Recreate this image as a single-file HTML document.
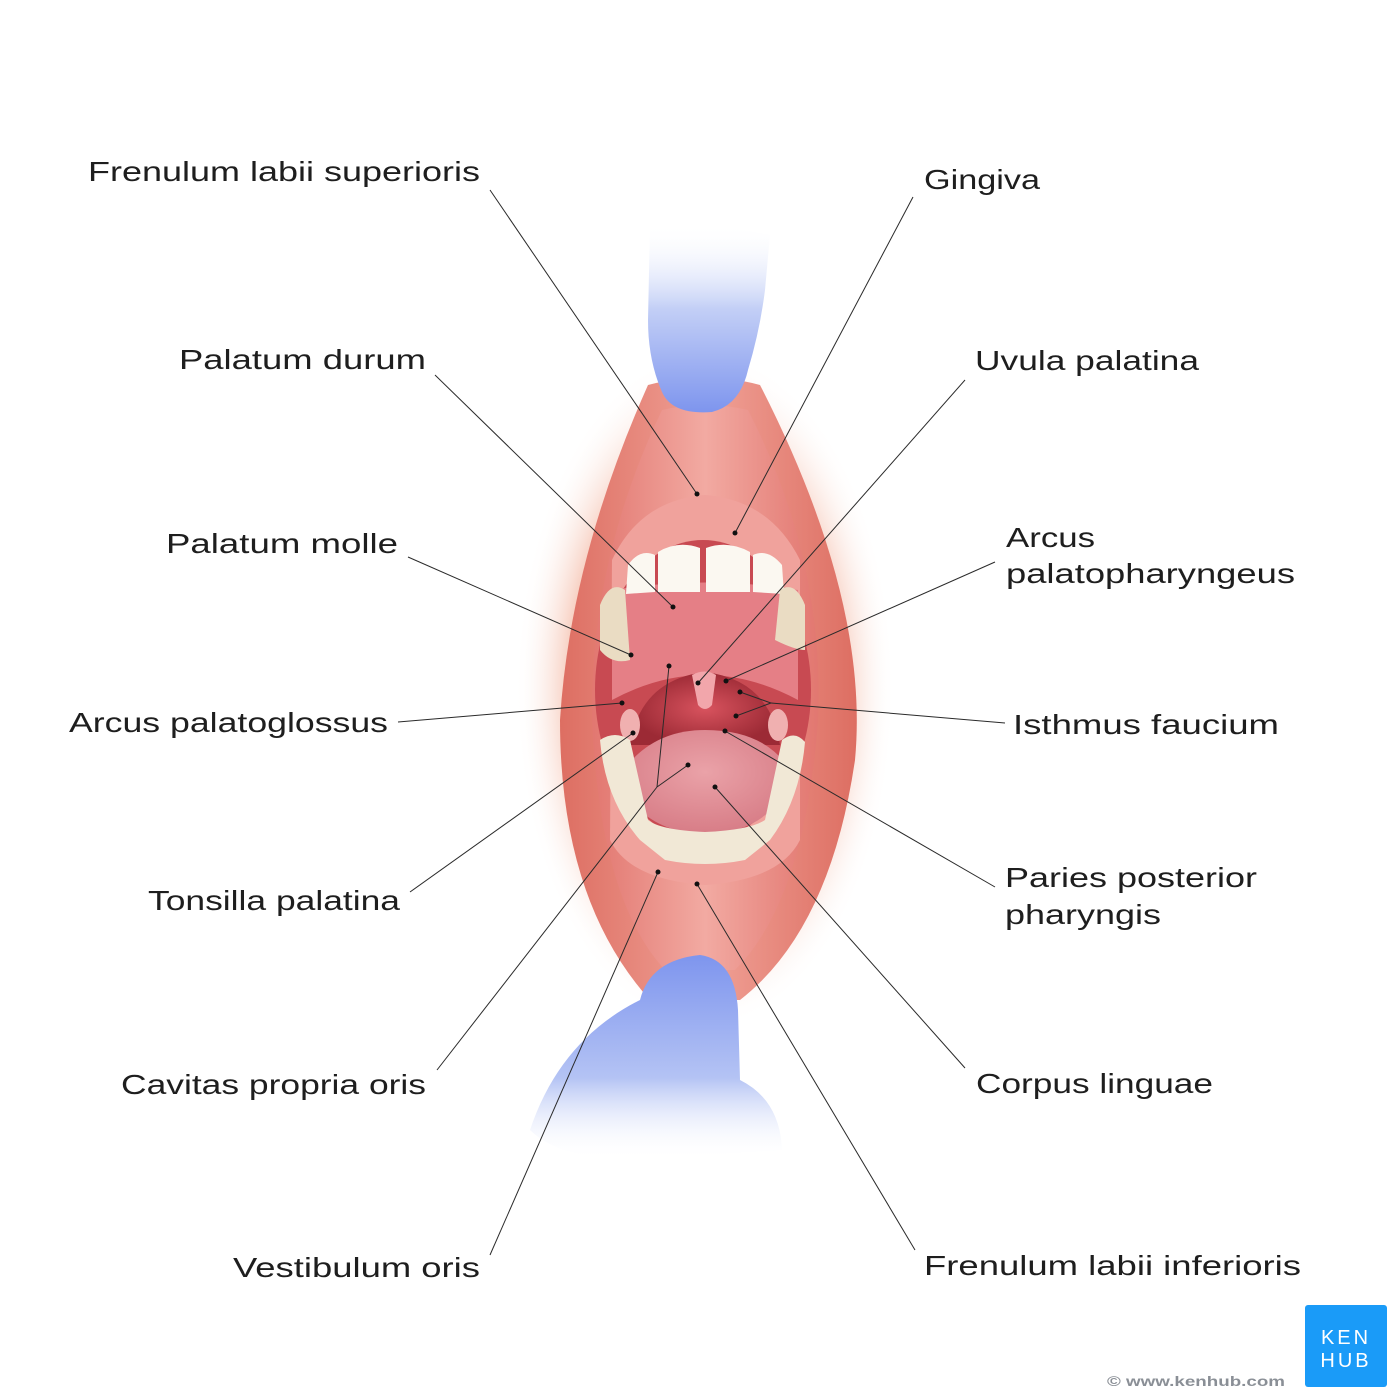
<!DOCTYPE html>
<html><head><meta charset="utf-8"><style>
html,body{margin:0;padding:0;background:#fff;width:1400px;height:1400px;overflow:hidden}
svg{display:block}
text{font-family:"Liberation Sans",sans-serif;font-size:28px;fill:#1e1e1e}
</style></head><body>
<svg width="1400" height="1400" viewBox="0 0 1400 1400" xmlns="http://www.w3.org/2000/svg">
<defs>
<radialGradient id="halo" cx="0.5" cy="0.5" r="0.5">
<stop offset="0.65" stop-color="#f3b49e"/><stop offset="1" stop-color="#fff" stop-opacity="0"/></radialGradient>
<linearGradient id="lip" x1="0" x2="1" y1="0" y2="0">
<stop offset="0" stop-color="#dd6e62"/><stop offset="0.5" stop-color="#f0a196"/><stop offset="1" stop-color="#dd6e62"/></linearGradient>
<linearGradient id="inner" x1="0" x2="1" y1="0" y2="0">
<stop offset="0" stop-color="#e27770"/><stop offset="0.5" stop-color="#f2aaa2"/><stop offset="1" stop-color="#e27770"/></linearGradient>
<radialGradient id="throat" cx="0.5" cy="0.5" r="0.5"><stop offset="0" stop-color="#d8535e"/><stop offset="1" stop-color="#9c2a35"/></radialGradient>
<radialGradient id="tongue" cx="0.5" cy="0.4" r="0.6"><stop offset="0" stop-color="#eaa2a8"/><stop offset="1" stop-color="#d77c86"/></radialGradient>
<linearGradient id="glove" x1="0" x2="0" y1="0" y2="1"><stop offset="0" stop-color="#fff" stop-opacity="0"/><stop offset="0.45" stop-color="#c3cff6"/><stop offset="1" stop-color="#7e95ee"/></linearGradient>
<linearGradient id="glove2" x1="0" x2="0" y1="0" y2="1"><stop offset="0" stop-color="#7e95ee"/><stop offset="0.6" stop-color="#b4c3f4"/><stop offset="1" stop-color="#fff" stop-opacity="0"/></linearGradient>
</defs>
<ellipse cx="705" cy="690" rx="190" ry="340" fill="url(#halo)"/>
<path d="M648 385 Q705 370 760 385 Q870 600 855 760 Q830 930 740 1000 L650 1000 Q560 900 560 720 Q570 560 648 385Z" fill="url(#lip)"/>
<path d="M662 410 Q705 400 748 410 Q825 560 818 720 Q805 900 735 970 L665 970 Q600 900 592 720 Q590 560 662 410Z" fill="url(#inner)"/>
<path d="M612 560 Q640 500 705 495 Q770 500 800 560 L800 840 Q780 880 705 885 Q630 880 610 840Z" fill="#f0a29c"/>
<ellipse cx="703" cy="690" rx="108" ry="150" fill="#c84a52"/>
<path d="M612 590 Q705 575 798 590 L798 700 Q705 650 612 700Z" fill="#e57f86"/>
<path d="M630 745 Q640 680 705 672 Q770 680 780 745Z" fill="url(#throat)"/>
<path d="M692 675 Q705 668 716 675 L712 705 Q705 713 698 705Z" fill="#f2a6ab"/>
<ellipse cx="630" cy="725" rx="10" ry="16" fill="#f0b0b0"/>
<ellipse cx="778" cy="725" rx="10" ry="16" fill="#f0b0b0"/>
<path d="M620 775 Q650 730 705 730 Q765 730 790 770 Q780 830 705 835 Q635 830 620 775Z" fill="url(#tongue)"/>
<g fill="#fbf8f1">
<path d="M658 552 Q678 540 700 548 L700 592 L658 592Z"/>
<path d="M706 548 Q728 540 750 552 L750 592 L706 592Z"/>
<path d="M628 565 Q640 548 655 555 L655 592 L626 594Z"/>
<path d="M753 555 Q768 548 782 565 L784 594 L753 592Z"/>
</g>
<path d="M600 605 Q610 580 625 590 L630 660 Q612 665 600 650Z" fill="#eadcc3"/>
<path d="M805 605 Q795 580 780 590 L775 640 Q795 650 805 650Z" fill="#eadcc3"/>
<path d="M600 740 Q615 730 630 740 L648 820 Q660 830 705 832 Q750 830 765 820 L782 740 Q795 730 805 742 Q800 800 770 840 L745 860 Q705 868 665 860 L640 840 Q605 800 600 740Z" fill="#f1e8d6"/>
<path d="M650 225 Q700 220 770 235 L765 290 Q760 330 748 370 Q740 405 712 412 Q672 415 662 392 Q648 360 648 320Z" fill="url(#glove)"/>
<path d="M530 1130 Q560 1040 640 1000 Q650 960 700 955 Q735 960 738 1010 L740 1080 Q780 1100 782 1150 L640 1160 Q560 1160 530 1130Z" fill="url(#glove2)"/>
<g stroke="#2a2a2a" stroke-width="1" fill="none">
<line x1="490" y1="190" x2="697" y2="494"/>
<line x1="913" y1="197" x2="735" y2="533"/>
<line x1="435" y1="375" x2="673" y2="607"/>
<line x1="965" y1="380" x2="698" y2="683"/>
<line x1="408" y1="557" x2="631" y2="655"/>
<line x1="995" y1="562" x2="726" y2="681"/>
<line x1="398" y1="722" x2="622" y2="703"/>
<polyline points="740,692 771,703 736,716"/>
<line x1="771" y1="703" x2="1005" y2="723"/>
<line x1="410" y1="892" x2="633" y2="733"/>
<line x1="995" y1="887" x2="725" y2="731"/>
<line x1="437" y1="1070" x2="657" y2="787"/>
<line x1="657" y1="787" x2="669" y2="666"/>
<line x1="657" y1="787" x2="688" y2="765"/>
<line x1="965" y1="1068" x2="715" y2="787"/>
<line x1="490" y1="1255" x2="658" y2="872"/>
<line x1="915" y1="1250" x2="697" y2="884"/>
</g>
<g fill="#111">
<circle cx="697" cy="494" r="2.5"/><circle cx="735" cy="533" r="2.5"/><circle cx="673" cy="607" r="2.5"/>
<circle cx="698" cy="683" r="2.5"/><circle cx="631" cy="655" r="2.5"/><circle cx="726" cy="681" r="2.5"/>
<circle cx="622" cy="703" r="2.5"/><circle cx="740" cy="692" r="2.5"/><circle cx="736" cy="716" r="2.5"/>
<circle cx="633" cy="733" r="2.5"/><circle cx="725" cy="731" r="2.5"/><circle cx="669" cy="666" r="2.5"/>
<circle cx="688" cy="765" r="2.5"/><circle cx="715" cy="787" r="2.5"/><circle cx="658" cy="872" r="2.5"/>
<circle cx="697" cy="884" r="2.5"/>
</g>
<text x="88" y="181" textLength="392" lengthAdjust="spacingAndGlyphs">Frenulum labii superioris</text>
<text x="179" y="369" textLength="247" lengthAdjust="spacingAndGlyphs">Palatum durum</text>
<text x="166" y="553" textLength="232" lengthAdjust="spacingAndGlyphs">Palatum molle</text>
<text x="69" y="732" textLength="319" lengthAdjust="spacingAndGlyphs">Arcus palatoglossus</text>
<text x="148" y="910" textLength="252" lengthAdjust="spacingAndGlyphs">Tonsilla palatina</text>
<text x="121" y="1094" textLength="305" lengthAdjust="spacingAndGlyphs">Cavitas propria oris</text>
<text x="233" y="1277" textLength="247" lengthAdjust="spacingAndGlyphs">Vestibulum oris</text>
<text x="924" y="189" textLength="116" lengthAdjust="spacingAndGlyphs">Gingiva</text>
<text x="975" y="370" textLength="224" lengthAdjust="spacingAndGlyphs">Uvula palatina</text>
<text x="1006" y="547" textLength="89" lengthAdjust="spacingAndGlyphs">Arcus</text>
<text x="1006" y="583" textLength="289" lengthAdjust="spacingAndGlyphs">palatopharyngeus</text>
<text x="1013" y="734" textLength="266" lengthAdjust="spacingAndGlyphs">Isthmus faucium</text>
<text x="1005" y="887" textLength="252" lengthAdjust="spacingAndGlyphs">Paries posterior</text>
<text x="1005" y="924" textLength="156" lengthAdjust="spacingAndGlyphs">pharyngis</text>
<text x="976" y="1093" textLength="237" lengthAdjust="spacingAndGlyphs">Corpus linguae</text>
<text x="924" y="1275" textLength="377" lengthAdjust="spacingAndGlyphs">Frenulum labii inferioris</text>
<rect x="1305" y="1305" width="82" height="82" rx="3" fill="#1a9bf8"/>
<text x="1346" y="1344" text-anchor="middle" style="font-size:20px;fill:#fff;letter-spacing:3px">KEN</text>
<text x="1346" y="1367" text-anchor="middle" style="font-size:20px;fill:#fff;letter-spacing:3px">HUB</text>
<text x="1107" y="1386" textLength="178" lengthAdjust="spacingAndGlyphs" style="font-size:14px;fill:#8a8f96;font-weight:bold">© www.kenhub.com</text>
</svg>
</body></html>
